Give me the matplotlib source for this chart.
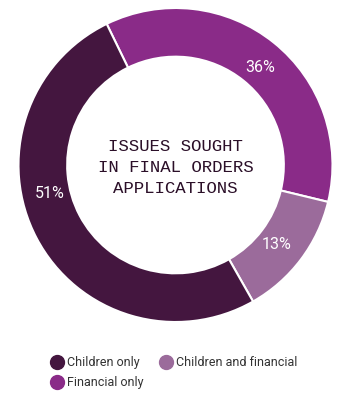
import numpy as np
import matplotlib.pyplot as plt
from matplotlib.lines import Line2D

# shares of final orders applications by issue sought
labels = ["Financial only", "Children and financial", "Children only"]
shares = [36, 13, 51]
colors = ["#8a2b88", "#9b6b9b", "#44163f"]
legend_order = ["Children only", "Financial only", "Children and financial"]

fig = plt.figure(figsize=(3.5, 4.01), dpi=100)
ax = fig.add_axes([18.5 / 350, 79 / 401, 314 / 350, 314 / 401])

wedges, texts, pcts = ax.pie(
    shares, colors=colors, startangle=116, counterclock=False,
    radius=1.0, autopct="%d%%", pctdistance=0.82,
    wedgeprops=dict(width=0.31, edgecolor="white", linewidth=1.5),
    textprops=dict(color="white", fontsize=11.5, family="Roboto"))

# percentage labels sit in the ring, angles picked by hand
label_deg = [49, -38, 193]
for t, d in zip(pcts, label_deg):
    th = np.deg2rad(d)
    t.set_position((0.82 * np.cos(th), 0.82 * np.sin(th)))

ax.text(0, -0.015, "ISSUES SOUGHT\nIN FINAL ORDERS\nAPPLICATIONS", ha="center",
        va="center", family="Liberation Mono", fontsize=12.5, color="#2b0f28",
        linespacing=1.5)
ax.set_xlim(-1, 1)
ax.set_ylim(-1, 1)
ax.set_aspect("equal")
ax.axis("off")

handles = [Line2D([], [], marker="o", linestyle="none", markersize=10,
                  color=colors[labels.index(n)]) for n in legend_order]
fig.legend(handles, legend_order, loc="upper left", bbox_to_anchor=(51 / 350, 1 - 356 / 401),
           ncol=2, frameon=False, handletextpad=0.3, columnspacing=1.3,
           labelspacing=0.55, handlelength=1.0, borderaxespad=0, borderpad=0,
           prop=dict(family="Roboto", size=9), labelcolor="#333333")

fig.savefig("out.png", dpi=100)
